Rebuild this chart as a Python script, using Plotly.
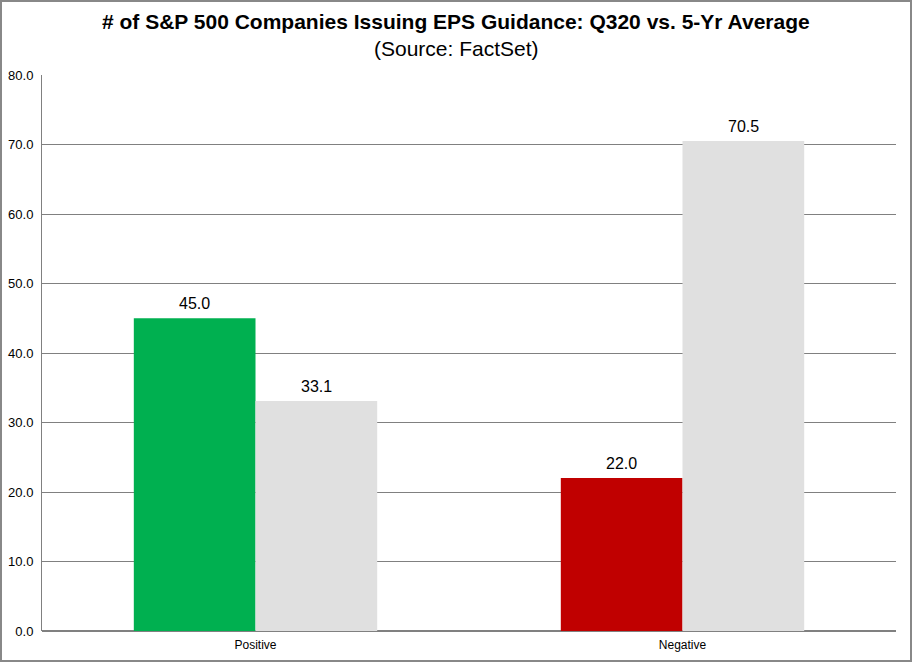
import plotly.graph_objects as go

categories = ["Positive", "Negative"]
q320_values = [45.0, 22.0]
avg_values = [33.1, 70.5]
q320_colors = ["#00B050", "#C00000"]
avg_color = "#E0E0E0"
y_ticks = [0, 10, 20, 30, 40, 50, 60, 70, 80]

W, H = 912, 662
ml, mr, mt, mb = 42, 16, 75, 31
pw = W - ml - mr
ph = H - mt - mb
bargap = 0.43
bar_w = pw / len(categories) * (1 - bargap) / 2

fig = go.Figure()
fig.add_trace(go.Bar(x=categories, y=q320_values, marker=dict(color=q320_colors, line=dict(width=0)),
                     name="Q320"))
fig.add_trace(go.Bar(x=categories, y=avg_values, marker=dict(color=avg_color, line=dict(width=0)),
                     name="5-Yr Average"))

for vals, sign in ((q320_values, -1), (avg_values, 1)):
    for c, v in zip(categories, vals):
        fig.add_annotation(x=c, y=v, text=f"{v:.1f}", showarrow=False,
                           xanchor="center", yanchor="bottom", xshift=sign * bar_w / 2, yshift=4,
                           font=dict(family="Arial", size=16, color="#000000"))

fig.add_shape(type="rect", xref="paper", yref="paper",
              x0=(-ml + 1) / pw, x1=(W - ml - 1) / pw,
              y0=(-mb + 1) / ph, y1=(ph + mt - 1) / ph,
              line=dict(color="#888888", width=2), fillcolor="rgba(0,0,0,0)", layer="above")

cx = (W / 2 - ml) / pw
fig.add_annotation(text="<b># of S&P 500 Companies Issuing EPS Guidance: Q320 vs. 5-Yr Average</b>",
                   xref="paper", yref="paper", x=cx, y=(ph + mt - 22) / ph,
                   xanchor="center", yanchor="middle", showarrow=False,
                   font=dict(family="Arial", size=21, color="#000000"))
fig.add_annotation(text="(Source: FactSet)",
                   xref="paper", yref="paper", x=cx, y=(ph + mt - 48) / ph,
                   xanchor="center", yanchor="middle", showarrow=False,
                   font=dict(family="Arial", size=21, color="#000000"))

fig.update_layout(
    width=W, height=H,
    margin=dict(l=ml, r=mr, t=mt, b=mb, autoexpand=False),
    paper_bgcolor="white", plot_bgcolor="white",
    barmode="group", bargap=bargap, bargroupgap=0,
    showlegend=False,
    font=dict(family="Arial", color="#000000"),
    xaxis=dict(showline=False, ticks="", tickfont=dict(family="Arial", size=12, color="#000000"),
               showgrid=False, ticklabelstandoff=5, automargin=False),
    yaxis=dict(range=[0, 80], tickvals=y_ticks, ticktext=[f"{v:.1f}" for v in y_ticks],
               showgrid=True, gridcolor="#808080", gridwidth=1,
               showline=True, linecolor="#808080", linewidth=1,
               zeroline=True, zerolinecolor="#808080", zerolinewidth=2,
               ticks="", ticklabelstandoff=5, automargin=False,
               tickfont=dict(family="Arial", size=13, color="#000000")),
)

fig.write_html("out.html")
